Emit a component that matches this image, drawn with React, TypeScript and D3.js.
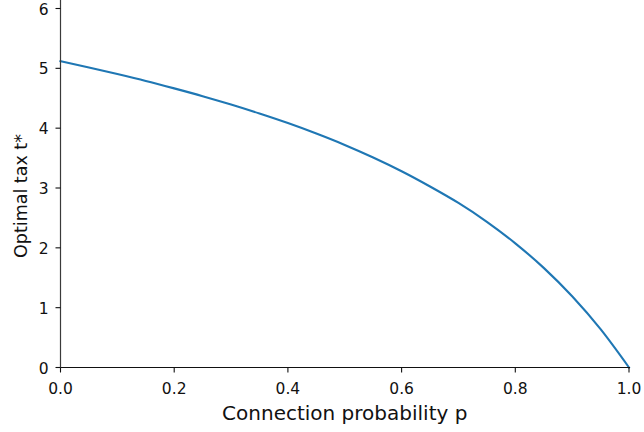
import React from "react";
import * as d3 from "d3";

const pValues = [0, 0.05, 0.1, 0.15, 0.2, 0.25, 0.3, 0.35, 0.4, 0.45, 0.5, 0.55, 0.6, 0.65, 0.7, 0.75, 0.8, 0.85, 0.9, 0.95, 1.0];
const taxValues = [5.12, 5.015, 4.905, 4.79, 4.665, 4.535, 4.395, 4.245, 4.085, 3.91, 3.72, 3.51, 3.28, 3.025, 2.75, 2.435, 2.075, 1.665, 1.19, 0.64, 0];
const xTicks = [0, 0.2, 0.4, 0.6, 0.8, 1.0];
const yTicks = [0, 1, 2, 3, 4, 5, 6];
const xLabel = "Connection probability p";
const yLabel = "Optimal tax t*";

const W = 644;
const H = 432;
const left = 60.5;
const right = 629;
const top = 8.5;
const bottom = 367.5;

export default function App() {
  const x = d3.scaleLinear().domain([0, 1]).range([left, right]);
  const y = d3.scaleLinear().domain([0, 6]).range([bottom, top]);
  const data = pValues.map((p, i) => ({ p, t: taxValues[i] }));
  const line = d3
    .line<{ p: number; t: number }>()
    .x((d) => x(d.p))
    .y((d) => y(d.t))
    .curve(d3.curveMonotoneX);
  const font = "DejaVu Sans, sans-serif";
  return (
    <svg width={W} height={H} style={{ position: "absolute", left: 0, top: 0, background: "#fff" }}>
      <rect x={0} y={0} width={W} height={H} fill="#fff" />
      <path d={line(data) || ""} fill="none" stroke="#1f77b4" strokeWidth={2.1} strokeLinejoin="round" strokeLinecap="square" />
      <line x1={left} x2={left} y1={0} y2={bottom} stroke="#3a3a3a" strokeWidth={1.2} />
      <line x1={left} x2={right + 1} y1={bottom} y2={bottom} stroke="#111" strokeWidth={1.2} />
      {xTicks.map((t) => (
        <g key={"x" + t}>
          <line x1={x(t)} x2={x(t)} y1={bottom} y2={bottom + 5} stroke="#111" strokeWidth={1.1} />
          <text x={x(t)} y={bottom + 26} textAnchor="middle" fontFamily={font} fontSize={15.5} fill="#111">
            {t.toFixed(1)}
          </text>
        </g>
      ))}
      {yTicks.map((t) => (
        <g key={"y" + t}>
          <line x1={left - 5} x2={left} y1={y(t)} y2={y(t)} stroke="#111" strokeWidth={1.1} />
          <text x={left - 12} y={y(t) + 6} textAnchor="end" fontFamily={font} fontSize={15.5} fill="#111">
            {t}
          </text>
        </g>
      ))}
      <text x={(left + right) / 2} y={419.5} textAnchor="middle" fontFamily={font} fontSize={20} fill="#111">
        {xLabel}
      </text>
      <text
        transform={`translate(27,196) rotate(-90)`}
        textAnchor="middle"
        fontFamily={font}
        fontSize={17.5}
        fill="#111"
      >
        {yLabel}
      </text>
    </svg>
  );
}
